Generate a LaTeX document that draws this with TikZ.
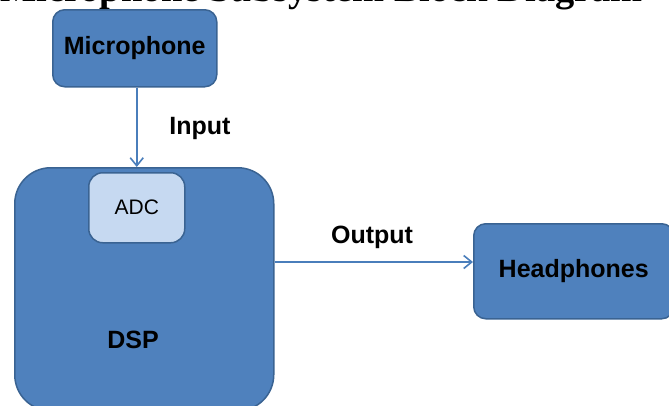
\documentclass[tikz,border=0pt]{standalone}
\usepackage{fontspec}
\setmainfont{Liberation Sans}
\newfontfamily\titlefont{Liberation Serif}
\usetikzlibrary{arrows.meta}
\definecolor{boxblue}{HTML}{4F81BD}
\definecolor{boxedge}{HTML}{3A6392}
\definecolor{adcfill}{HTML}{C6D9F1}
\definecolor{arrowblue}{HTML}{4A7EBB}
\begin{document}
\begin{tikzpicture}[x=1pt,y=1pt,
  blk/.style={draw=boxedge, fill=boxblue, line width=1.5pt, rounded corners=12pt,
    inner sep=0pt, anchor=north west, text=black,
    font=\fontsize{25}{29}\selectfont\bfseries},
  adcbox/.style={blk, fill=adcfill, rounded corners=14pt,
    font=\fontsize{21}{25}\selectfont},
  lbl/.style={inner sep=0pt, text=black, font=\fontsize{25}{29}\selectfont\bfseries},
  arr/.style={draw=arrowblue, line width=1.6pt,
    -{Straight Barb[length=8pt,width=13pt,line width=1.6pt]}}
]
\useasboundingbox (0,0) rectangle (669,-405);
\fill[white] (0,0) rectangle (669,-405);
% title (cut off at the top of the picture: only its lowest parts show)
\node[anchor=base west, inner sep=0pt,
  font=\titlefont\bfseries\fontsize{38.4}{44}\selectfont] (title) at (0,-1)
  {Microphone Subsystem Block Diagram};
% boxes
\node[blk, minimum width=164pt, minimum height=77pt] (mic) at (52,-9) {Microphone};
\node[blk, rounded corners=36pt, minimum width=259pt, minimum height=243pt] (dsp) at (14,-167) {};
\node[adcbox, minimum width=96pt, minimum height=70pt] (adc) at (88,-172) {ADC};
\node[blk, minimum width=200pt, minimum height=95pt] (hp) at (473,-223) {Headphones};
\node[lbl] (dspl) at (133,-340) {DSP};
% labels
\node[lbl] (inl) at (200,-128) {Input};
\node[lbl] (outl) at (372,-237) {Output};
% connectors
\coordinate (outy) at (0,-262);
\draw[arr] (mic.south -| adc.north) -- (adc.north |- dsp.north);
\draw[arr] (dsp.east |- outy) -- (hp.west |- outy);
\end{tikzpicture}
\end{document}
